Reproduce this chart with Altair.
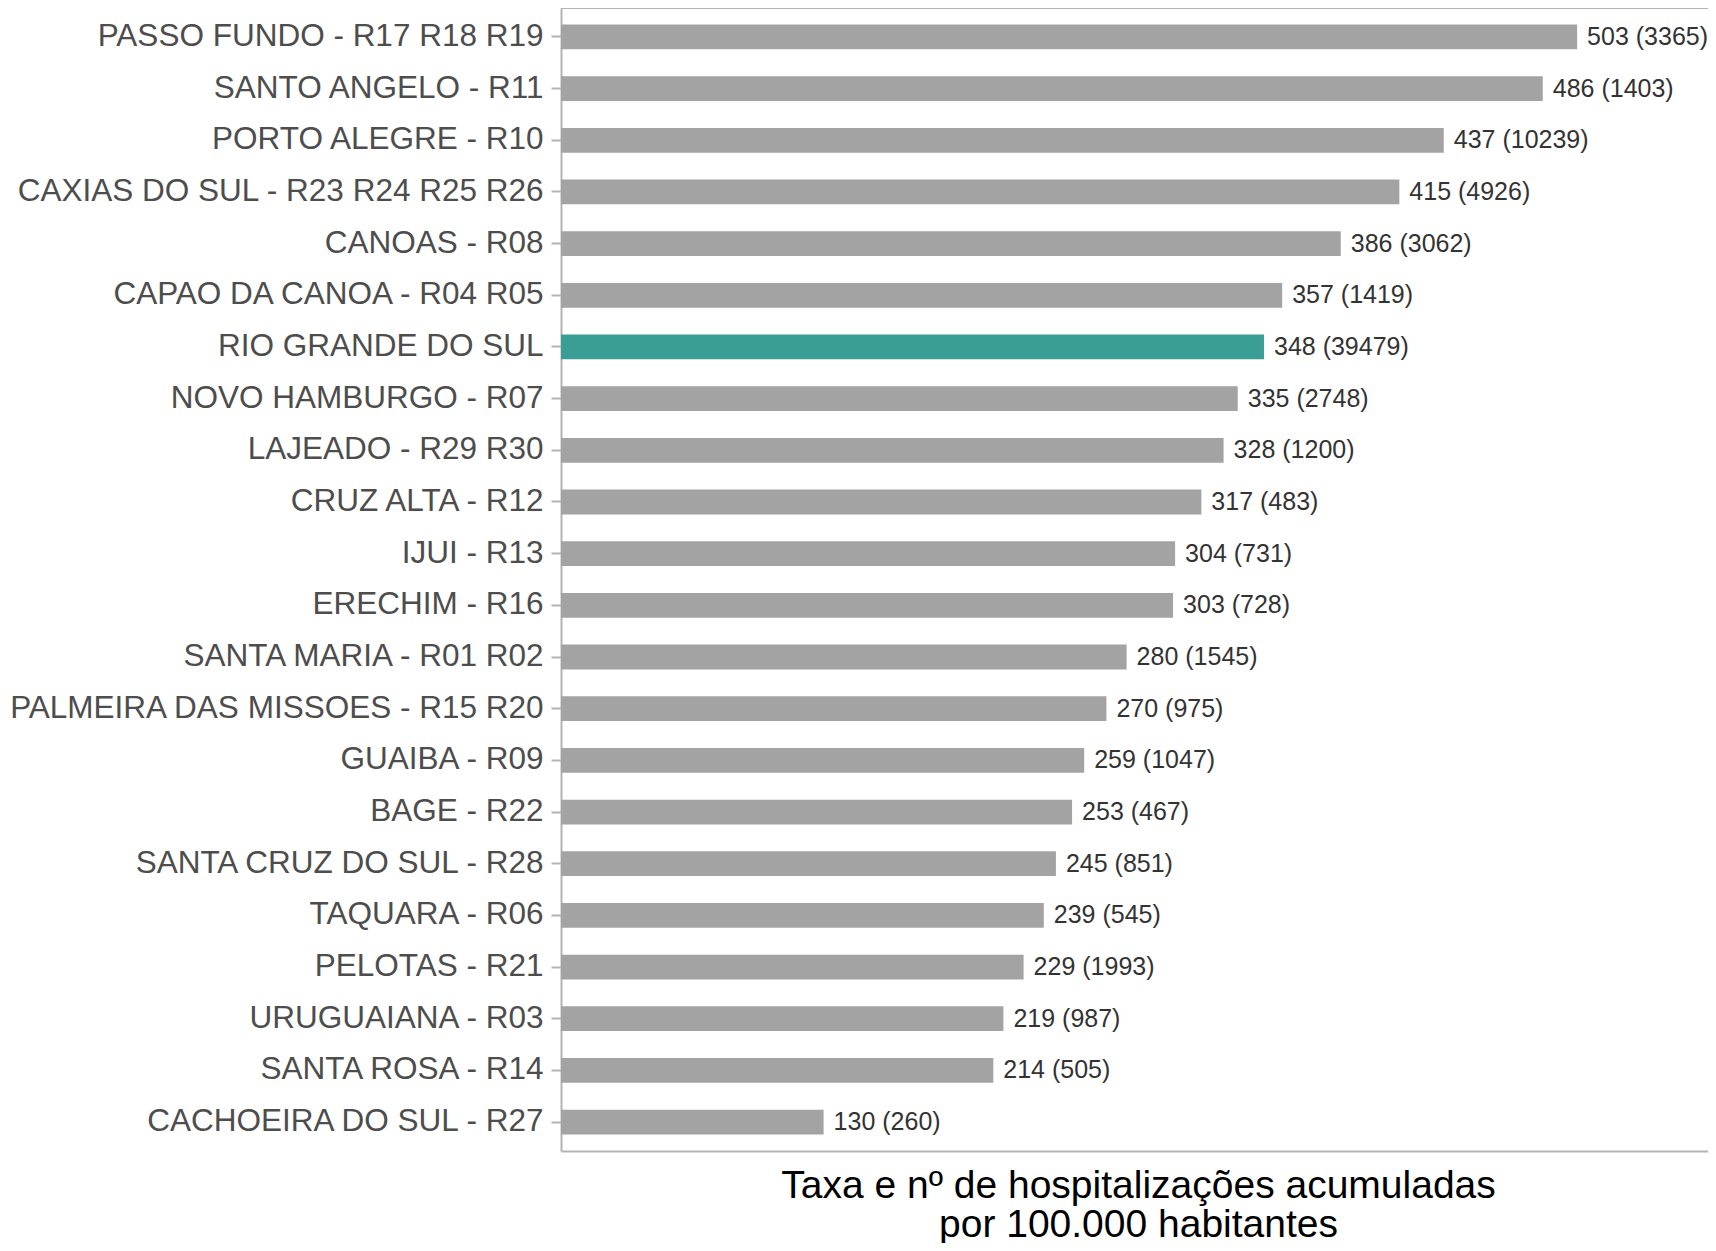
import altair as alt
import pandas as pd

regions = [
    "PASSO FUNDO - R17 R18 R19",
    "SANTO ANGELO - R11",
    "PORTO ALEGRE - R10",
    "CAXIAS DO SUL - R23 R24 R25 R26",
    "CANOAS - R08",
    "CAPAO DA CANOA - R04 R05",
    "RIO GRANDE DO SUL",
    "NOVO HAMBURGO - R07",
    "LAJEADO - R29 R30",
    "CRUZ ALTA - R12",
    "IJUI - R13",
    "ERECHIM - R16",
    "SANTA MARIA - R01 R02",
    "PALMEIRA DAS MISSOES - R15 R20",
    "GUAIBA - R09",
    "BAGE - R22",
    "SANTA CRUZ DO SUL - R28",
    "TAQUARA - R06",
    "PELOTAS - R21",
    "URUGUAIANA - R03",
    "SANTA ROSA - R14",
    "CACHOEIRA DO SUL - R27",
]
rates = [503, 486, 437, 415, 386, 357, 348, 335, 328, 317, 304, 303, 280, 270,
         259, 253, 245, 239, 229, 219, 214, 130]
counts = [3365, 1403, 10239, 4926, 3062, 1419, 39479, 2748, 1200, 483, 731, 728,
          1545, 975, 1047, 467, 851, 545, 1993, 987, 505, 260]
highlight = "RIO GRANDE DO SUL"

df = pd.DataFrame({"region": regions, "rate": rates, "count": counts})
df["label"] = [f"{r} ({c})" for r, c in zip(rates, counts)]
df["hl"] = ["y" if r == highlight else "n" for r in regions]

W, H = 1147, 1143
FONT = "Liberation Sans"
BORDER = "#B3B3B3"

xscale = alt.Scale(domain=[0, 567.8], nice=False, zero=True)
yscale = alt.Scale(domain=regions, paddingInner=0.52, paddingOuter=0.32)

base = alt.Chart(df)

bars = base.mark_bar().encode(
    x=alt.X("rate:Q", scale=xscale,
            axis=alt.Axis(title=["Taxa e nº de hospitalizações acumuladas",
                                 "por 100.000 habitantes"],
                          labels=False, ticks=False, grid=False,
                          domainColor=BORDER, domainWidth=2,
                          titleFont=FONT, titleFontSize=39, titleFontWeight="normal",
                          titleColor="#000000", titlePadding=15,
                          titleLineHeight=39, titleX=577, titleAlign="center")),
    y=alt.Y("region:N", scale=yscale, sort=regions,
            axis=alt.Axis(title=None, labelFont=FONT, labelFontSize=31.5,
                          labelColor="#4D4D4D", labelPadding=8, tickSize=10,
                          tickColor=BORDER, tickWidth=2, domainColor=BORDER,
                          domainWidth=2, labelLimit=0)),
    color=alt.Color("hl:N", scale=alt.Scale(domain=["n", "y"],
                                            range=["#A3A3A3", "#3A9E96"]),
                    legend=None),
)

text = base.mark_text(align="left", baseline="middle", dx=10, font=FONT,
                      fontSize=25, color="#333333").encode(
    x=alt.X("rate:Q", scale=xscale),
    y=alt.Y("region:N", scale=yscale, sort=regions),
    text="label:N",
)

top = alt.Chart(pd.DataFrame({"a": [0]})).mark_rule(color=BORDER, strokeWidth=2).encode(
    x=alt.value(0), x2=alt.value(W), y=alt.value(0)
)

chart = alt.layer(bars, text, top).properties(
    width=W, height=H,
    autosize=alt.AutoSizeParams(type="none"),
    padding={"left": 553, "top": 0, "right": 0, "bottom": 92},
).configure_view(stroke=None)

chart.save("out.html", embed_options={"renderer": "svg", "actions": False})
